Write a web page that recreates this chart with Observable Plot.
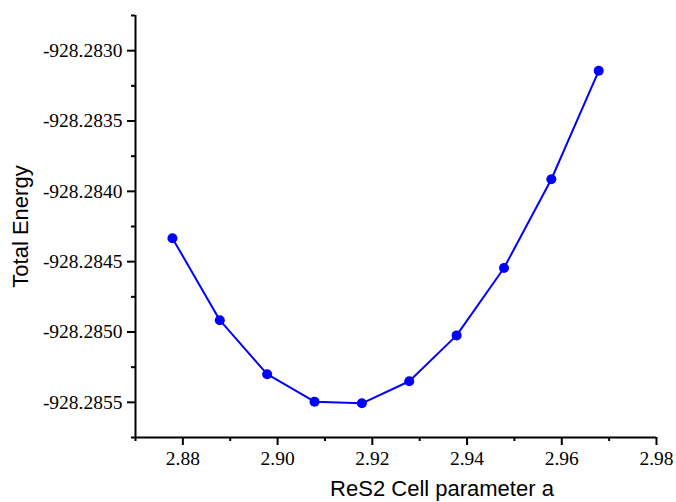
<!DOCTYPE html>
<html>
<head>
<meta charset="utf-8">
<script src="https://cdn.jsdelivr.net/npm/d3@7"></script>
<script src="https://cdn.jsdelivr.net/npm/@observablehq/plot@0.6"></script>
<style>
  html, body { margin: 0; padding: 0; background: #fff; }
</style>
</head>
<body>
<div id="chart"></div>
<script>
const cellA = [2.8778, 2.8878, 2.8978, 2.9078, 2.9178, 2.9278, 2.9378, 2.9478, 2.9578, 2.9678];
const totalEnergy = [-928.284333, -928.284916, -928.285300, -928.285495, -928.285507, -928.285350, -928.285024, -928.284545, -928.283914, -928.283143];
const xDomain = [2.87, 2.98];
const yDomain = [-928.28575, -928.28275];
const xMajorTicks = [2.88, 2.90, 2.92, 2.94, 2.96, 2.98];
const xMinorTicks = [2.87, 2.89, 2.91, 2.93, 2.95, 2.97];
const yMajorTicks = [-928.2830, -928.2835, -928.2840, -928.2845, -928.2850, -928.2855];
const yMinorTicks = [-928.28275, -928.28325, -928.28375, -928.28425, -928.28475, -928.28525, -928.28575];
const xTitle = "ReS2 Cell parameter a";
const yTitle = "Total Energy";

const data = cellA.map((a, i) => ({a, e: totalEnergy[i]}));

const chart = Plot.plot({
  width: 676,
  height: 502,
  marginLeft: 135,
  marginRight: 20,
  marginTop: 15,
  marginBottom: 65,
  style: {fontFamily: "'Liberation Serif', 'Times New Roman', serif", fontSize: "19.5px", background: "#fff", color: "#000"},
  x: {domain: xDomain},
  y: {domain: yDomain},
  marks: [
    Plot.axisX(xMajorTicks, {tickSize: 8, tickPadding: 6, strokeWidth: 2, tickFormat: d => d.toFixed(2), label: null}),
    Plot.axisX(xMinorTicks, {tickSize: 4, strokeWidth: 2, tickFormat: () => "", label: null}),
    Plot.axisY(yMajorTicks, {tickSize: 8, tickPadding: 5, strokeWidth: 2, tickFormat: d => d.toFixed(4), label: null}),
    Plot.axisY(yMinorTicks, {tickSize: 4, strokeWidth: 2, tickFormat: () => "", label: null}),
    Plot.ruleX([xDomain[0]], {stroke: "#000", strokeWidth: 2}),
    Plot.ruleY([yDomain[0]], {stroke: "#000", strokeWidth: 2}),
    Plot.line(data, {x: "a", y: "e", stroke: "#0000ff", strokeWidth: 2}),
    Plot.dot(data, {x: "a", y: "e", r: 5, fill: "#0000ff"}),
    Plot.text([xTitle], {text: d => d, frameAnchor: "bottom", textAnchor: "middle", lineAnchor: "middle", dx: 46, dy: 51, fontFamily: "'Liberation Sans', Arial, sans-serif", fontSize: 22, fill: "#000"}),
    Plot.text([yTitle], {text: d => d, frameAnchor: "left", textAnchor: "middle", lineAnchor: "middle", dx: -115, rotate: -90, fontFamily: "'Liberation Sans', Arial, sans-serif", fontSize: 22, fill: "#000"})
  ]
});
document.getElementById("chart").appendChild(chart);
</script>
</body>
</html>
